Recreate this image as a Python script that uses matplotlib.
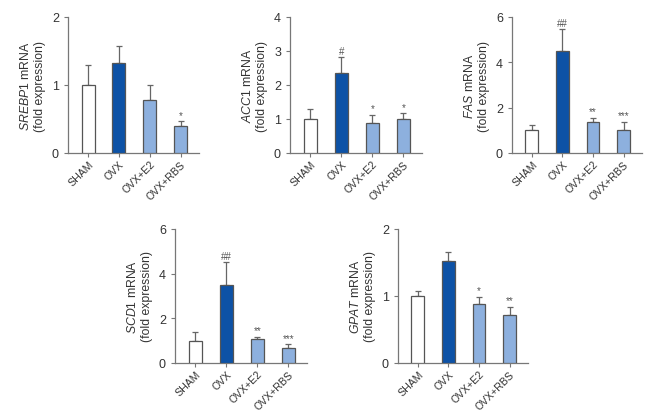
import matplotlib
matplotlib.use("Agg")
import matplotlib.pyplot as plt
import numpy as np

plt.rcParams["font.family"] = ["Liberation Sans", "DejaVu Sans"]
plt.rcParams["mathtext.fontset"] = "custom"
plt.rcParams["mathtext.it"] = "Liberation Sans:italic"
plt.rcParams["mathtext.rm"] = "Liberation Sans"

groups = ["SHAM", "OVX", "OVX+E2", "OVX+RBS"]

srebp1_mean = [1.0, 1.32, 0.78, 0.40]
srebp1_sem = [0.30, 0.25, 0.22, 0.07]
srebp1_sig = ["", "", "", "*"]

acc1_mean = [1.0, 2.35, 0.88, 1.0]
acc1_sem = [0.30, 0.47, 0.24, 0.17]
acc1_sig = ["", "#", "*", "*"]

fas_mean = [1.0, 4.50, 1.35, 1.03]
fas_sem = [0.25, 0.95, 0.20, 0.34]
fas_sig = ["", "##", "**", "***"]

scd1_mean = [1.0, 3.50, 1.07, 0.67]
scd1_sem = [0.37, 1.02, 0.11, 0.18]
scd1_sig = ["", "##", "**", "***"]

gpat_mean = [1.0, 1.52, 0.88, 0.71]
gpat_sem = [0.07, 0.14, 0.11, 0.13]
gpat_sig = ["", "", "*", "**"]

FACE = ["white", "#0d52a6", "#8db0de", "#8db0de"]
EDGE = "#555555"
AX = "#777777"

W, H = 647, 414
fig = plt.figure(figsize=(W / 100, H / 100), dpi=100)


def panel(px_left, px_top, px_right, px_bottom, gene, mean, sem, sig, ymax, step):
    ax = fig.add_axes([px_left / W, 1 - px_bottom / H,
                       (px_right - px_left) / W, (px_bottom - px_top) / H])
    x = np.arange(len(groups))
    ax.bar(x, mean, width=0.42, color=FACE, edgecolor=EDGE, linewidth=0.9, zorder=3)
    ax.errorbar(x, mean, yerr=[np.zeros(len(sem)), sem], fmt="none",
                ecolor="#666666", elinewidth=0.9, capsize=2.5, capthick=0.9, zorder=2)
    for xi, m, s, t in zip(x, mean, sem, sig):
        if t:
            ax.annotate(t, (xi, m + s), xytext=(0, 1), textcoords="offset points",
                        ha="center", va="bottom", fontsize=7, color="#555555")
    ax.set_xlim(-0.65, 3.6)
    ax.set_ylim(0, ymax)
    ax.set_yticks(np.arange(0, ymax + 0.01, step))
    ax.set_xticks(x)
    ax.set_xticklabels(groups, rotation=45, ha="right", rotation_mode="anchor",
                       fontsize=7.6, color="#333333")
    ax.tick_params(axis="y", labelsize=9, colors="#333333", length=3, width=0.8, color=AX)
    ax.tick_params(axis="x", length=3, width=0.8, color=AX, pad=1)
    for s in ("top", "right"):
        ax.spines[s].set_visible(False)
    for s in ("left", "bottom"):
        ax.spines[s].set_color(AX)
        ax.spines[s].set_linewidth(0.9)
    ax.set_ylabel(r"$\mathit{" + gene + r"}$ mRNA" + "\n(fold expression)",
                  fontsize=8.8, color="#333333", linespacing=1.25, labelpad=4)
    return ax


panel(68, 18, 199, 154, "SREBP1", srebp1_mean, srebp1_sem, srebp1_sig, 2, 1)
panel(290, 18, 422, 154, "ACC1", acc1_mean, acc1_sem, acc1_sig, 4, 1)
panel(512, 18, 642, 154, "FAS", fas_mean, fas_sem, fas_sig, 6, 2)
panel(175, 230, 307, 364, "SCD1", scd1_mean, scd1_sem, scd1_sig, 6, 2)
panel(398, 230, 528, 364, "GPAT", gpat_mean, gpat_sem, gpat_sig, 2, 1)

fig.savefig("out.png", dpi=100)
